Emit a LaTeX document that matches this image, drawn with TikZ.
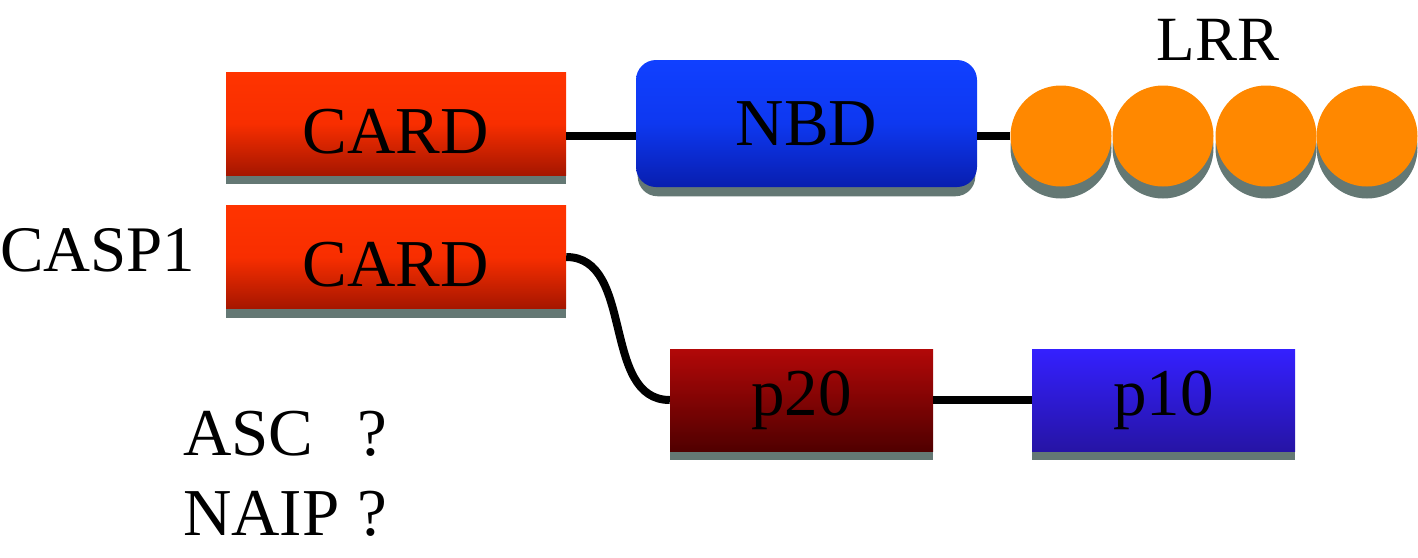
\documentclass[tikz,border=0pt]{standalone}
\usepackage{fontspec}
\setmainfont{Liberation Serif}
\usetikzlibrary{shadows,calc}
\definecolor{shadowgray}{RGB}{100,120,116}
\definecolor{cardtop}{RGB}{255,52,0}
\definecolor{cardmid}{RGB}{248,46,0}
\definecolor{cardbot}{RGB}{165,22,0}
\definecolor{nbdtop}{RGB}{16,64,255}
\definecolor{nbdmid}{RGB}{14,56,240}
\definecolor{nbdbot}{RGB}{8,30,175}
\definecolor{ptwtop}{RGB}{178,8,8}
\definecolor{ptwbot}{RGB}{80,0,0}
\definecolor{ptentop}{RGB}{52,32,255}
\definecolor{ptenbot}{RGB}{38,20,165}
\definecolor{lrrorange}{RGB}{255,136,0}
\begin{document}
\begin{tikzpicture}[x=1pt,y=-1pt,
  dom/.style={rectangle, inner sep=0pt, font=\fontsize{67}{70}\selectfont,
    general shadow={fill=shadowgray, shadow yshift=-9pt}},
  cardbox/.style={dom, minimum width=340pt, minimum height=103pt,
    top color=cardtop, bottom color=cardbot, middle color=cardmid,
    text height=59pt, text depth=0pt},
  nbdbox/.style={rectangle, inner sep=0pt, font=\fontsize{67}{70}\selectfont,
    rounded corners=20pt, minimum width=341pt, minimum height=127pt,
    top color=nbdtop, bottom color=nbdbot, middle color=nbdmid,
    general shadow={fill=shadowgray, shadow yshift=-10pt, shadow scale=0.99}},
  ptwbox/.style={dom, minimum width=263pt, minimum height=102pt,
    top color=ptwtop, bottom color=ptwbot},
  ptenbox/.style={dom, minimum width=263pt, minimum height=102pt,
    top color=ptentop, bottom color=ptenbot},
  lrrball/.style={circle, inner sep=0pt, minimum size=101pt, fill=lrrorange,
    general shadow={fill=shadowgray, shadow yshift=-12pt}},
  conn/.style={line width=8pt, black},
  lbl/.style={inner sep=0pt, font=\fontsize{65}{70}\selectfont}]
\useasboundingbox (0,0) rectangle (1418,557);

\node[cardbox] (card1) at (396,123.5) {CARD};
\node[cardbox] (card2) at (396,257) {CARD};
\node[nbdbox] (nbd) at (806.5,123.5) {NBD};
\node[lrrball] (l1) at (1061,136) {};
\node[lrrball] (l2) at (1163,136) {};
\node[lrrball] (l3) at (1266,136) {};
\node[lrrball] (l4) at (1367,136) {};
\node[ptwbox] (p20) at (801.5,400) {p20};
\node[ptenbox] (p10) at (1163.5,400) {p10};

\node[lbl, font=\fontsize{63}{70}\selectfont] (lrr) at (1218,40) {LRR};
\node[lbl, anchor=west] (casp) at (0,250) {CASP1};
\node[lbl, anchor=base west, font=\fontsize{67}{70}\selectfont] (asc) at (183,455) {\makebox[174pt][l]{ASC}?};
\node[lbl, anchor=base west, font=\fontsize{67}{70}\selectfont] (naip) at (183,535) {\makebox[174pt][l]{NAIP}?};

\draw[conn] (card1.east |- l1.center) -- (nbd.west |- l1.center);
\draw[conn] (nbd.east |- l1.center) -- (l1.west);
\draw[conn] (card2.east) to[out=0,in=180] (p20.west);
\draw[conn] (p20.east) -- (p10.west);
\end{tikzpicture}
\end{document}
